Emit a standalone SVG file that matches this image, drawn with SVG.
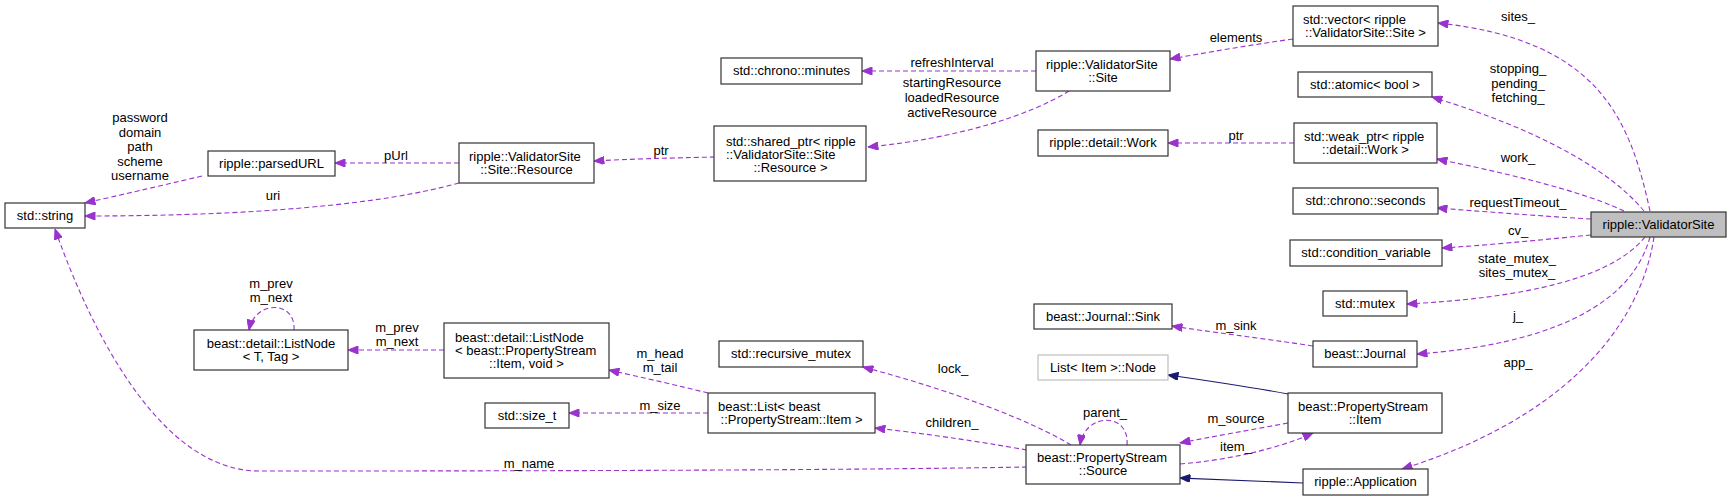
<svg xmlns="http://www.w3.org/2000/svg" width="1732" height="501" viewBox="0 0 1732 501">
<defs>
<style>
text{font-family:"Liberation Sans",Arial,sans-serif;font-size:13px;fill:#000}
.n rect{fill:#fff;stroke:#333;stroke-width:1.2}
.n text{text-anchor:middle}
.n text.l{text-anchor:start}
#n_vs rect{fill:#bfbfbf}
#n_listnode rect{stroke:#bfbfbf}
.e path{fill:none;stroke:#9a32cd;stroke-width:1.1;stroke-dasharray:5,3;marker-end:url(#ap)}
.e path.inh{stroke:#191970;stroke-dasharray:none;marker-end:url(#an)}
.lbl text{text-anchor:middle}
</style>
<marker id="ap" viewBox="0 0 10 8" refX="10" refY="4" markerWidth="11" markerHeight="8" markerUnits="userSpaceOnUse" orient="auto"><path d="M0,0 L10,4 L0,8 z" fill="#9a32cd" stroke="#9a32cd"/></marker>
<marker id="an" viewBox="0 0 10 8" refX="10" refY="4" markerWidth="11" markerHeight="8" markerUnits="userSpaceOnUse" orient="auto"><path d="M0,0 L10,4 L0,8 z" fill="#191970" stroke="#191970"/></marker>
</defs>
<rect width="1732" height="501" fill="#fff"/>

<g id="edges" class="e">
<path d="M1650,211 C1630,120 1600,40 1438,23"/>
<path d="M1644,211 C1610,170 1540,130 1432,97"/>
<path d="M1624,211 C1580,190 1500,172 1437,159"/>
<path d="M1591,219 C1540,216 1490,212 1437,208"/>
<path d="M1591,235 C1540,240 1490,245 1442,248"/>
<path d="M1645,237 C1610,280 1520,298 1407,304"/>
<path d="M1650,237 C1630,310 1540,345 1417,354"/>
<path d="M1654,237 C1640,330 1560,420 1402,469"/>
<path d="M1293,39 C1250,45 1210,52 1170,59"/>
<path d="M1294,143 L1168,143"/>
<path d="M1036,71 L862,71"/>
<path d="M1069,91 C1030,115 960,138 868,147"/>
<path d="M715,157 C670,158 630,159 594,161"/>
<path d="M459,163 L335,163"/>
<path d="M202,176 C160,186 120,195 85,203"/>
<path d="M459,183 C380,205 250,216 85,216"/>
<path d="M1027,467 C800,471 400,471 259,471 C150,471 80,300 55,229"/>
<path d="M444,350 L348,350"/>
<path d="M294,330 C296,300 255,300 249,330"/>
<path d="M708,393 C680,386 640,377 609,370"/>
<path d="M708,413 L569,413"/>
<path d="M1071,445 C1030,420 950,390 863,367"/>
<path d="M1027,450 C970,440 920,433 875,428"/>
<path d="M1127,445 C1130,412 1085,412 1080,445"/>
<path d="M1313,346 C1260,338 1210,332 1172,326"/>
<path class="inh" d="M1288,394 C1250,387 1210,381 1168,375"/>
<path d="M1288,423 C1250,430 1210,437 1180,443"/>
<path d="M1180,464 C1230,460 1280,448 1313,433"/>
<path class="inh" d="M1303,483 C1260,481 1220,480 1180,478"/>
</g>

<g id="labels" class="lbl">
<text x="1518" y="21">sites_</text>
<text x="1518" y="73">stopping_</text>
<text x="1518" y="88">pending_</text>
<text x="1518" y="102">fetching_</text>
<text x="1518" y="162">work_</text>
<text x="1518" y="207">requestTimeout_</text>
<text x="1518" y="235">cv_</text>
<text x="1517" y="263">state_mutex_</text>
<text x="1517" y="277">sites_mutex_</text>
<text x="1518" y="320">j_</text>
<text x="1518" y="367">app_</text>
<text x="1236" y="42">elements</text>
<text x="1236" y="140">ptr</text>
<text x="952" y="67">refreshInterval</text>
<text x="952" y="87">startingResource</text>
<text x="952" y="102">loadedResource</text>
<text x="952" y="117">activeResource</text>
<text x="661" y="155">ptr</text>
<text x="396" y="160">pUrl</text>
<text x="140" y="122">password</text>
<text x="140" y="137">domain</text>
<text x="140" y="151">path</text>
<text x="140" y="166">scheme</text>
<text x="140" y="180">username</text>
<text x="273" y="200">uri</text>
<text x="271" y="288">m_prev</text>
<text x="271" y="302">m_next</text>
<text x="397" y="332">m_prev</text>
<text x="397" y="346">m_next</text>
<text x="660" y="358">m_head</text>
<text x="660" y="372">m_tail</text>
<text x="660" y="410">m_size</text>
<text x="529" y="468">m_name</text>
<text x="953" y="373">lock_</text>
<text x="952" y="427">children_</text>
<text x="1105" y="417">parent_</text>
<text x="1236" y="330">m_sink</text>
<text x="1236" y="423">m_source</text>
<text x="1236" y="451">item_</text>
</g>

<g id="n_vs" class="n"><rect x="1591" y="212" width="135" height="25"/><text x="1658.5" y="229">ripple::ValidatorSite</text></g>
<g id="n_vector" class="n"><rect x="1293" y="6" width="145" height="40"/><text class="l" x="1303" y="24">std::vector&lt; ripple</text><text x="1365.5" y="37">::ValidatorSite::Site &gt;</text></g>
<g id="n_atomic" class="n"><rect x="1298" y="72" width="134" height="25"/><text x="1365" y="89">std::atomic&lt; bool &gt;</text></g>
<g id="n_weak" class="n"><rect x="1294" y="123" width="143" height="40"/><text class="l" x="1304" y="141">std::weak_ptr&lt; ripple</text><text x="1365.5" y="154">::detail::Work &gt;</text></g>
<g id="n_seconds" class="n"><rect x="1293" y="188" width="145" height="26"/><text x="1365.5" y="205">std::chrono::seconds</text></g>
<g id="n_condvar" class="n"><rect x="1290" y="240" width="152" height="26"/><text x="1366" y="257">std::condition_variable</text></g>
<g id="n_mutex" class="n"><rect x="1323" y="291" width="84" height="25"/><text x="1365" y="308">std::mutex</text></g>
<g id="n_journal" class="n"><rect x="1313" y="341" width="104" height="26"/><text x="1365" y="358">beast::Journal</text></g>
<g id="n_item" class="n"><rect x="1288" y="393" width="154" height="40"/><text class="l" x="1298" y="411">beast::PropertyStream</text><text x="1365" y="424">::Item</text></g>
<g id="n_app" class="n"><rect x="1303" y="469" width="125" height="26"/><text x="1365.5" y="486">ripple::Application</text></g>
<g id="n_sink" class="n"><rect x="1034" y="304" width="138" height="25"/><text x="1103" y="321">beast::Journal::Sink</text></g>
<g id="n_listnode" class="n"><rect x="1038" y="355" width="130" height="25"/><text x="1103" y="372">List&lt; Item &gt;::Node</text></g>
<g id="n_source" class="n"><rect x="1026" y="445" width="154" height="39"/><text class="l" x="1037" y="462">beast::PropertyStream</text><text x="1103" y="475">::Source</text></g>
<g id="n_rmutex" class="n"><rect x="719" y="341" width="144" height="26"/><text x="791" y="358">std::recursive_mutex</text></g>
<g id="n_blist" class="n"><rect x="708" y="393" width="167" height="40"/><text class="l" x="718" y="411">beast::List&lt; beast</text><text x="791.5" y="424">::PropertyStream::Item &gt;</text></g>
<g id="n_sizet" class="n"><rect x="485" y="403" width="84" height="25"/><text x="527" y="420">std::size_t</text></g>
<g id="n_listnode2" class="n"><rect x="444" y="323" width="165" height="55"/><text class="l" x="455" y="342">beast::detail::ListNode</text><text class="l" x="455" y="355">&lt; beast::PropertyStream</text><text x="526.5" y="368">::Item, void &gt;</text></g>
<g id="n_listnode1" class="n"><rect x="194" y="330" width="154" height="40"/><text x="271" y="348">beast::detail::ListNode</text><text x="271" y="361">&lt; T, Tag &gt;</text></g>
<g id="n_string" class="n"><rect x="5" y="203" width="80" height="25"/><text x="45" y="220">std::string</text></g>
<g id="n_parsedurl" class="n"><rect x="208" y="151" width="127" height="25"/><text x="271.5" y="168">ripple::parsedURL</text></g>
<g id="n_resource" class="n"><rect x="459" y="143" width="135" height="40"/><text class="l" x="469" y="161">ripple::ValidatorSite</text><text x="526.5" y="174">::Site::Resource</text></g>
<g id="n_shared" class="n"><rect x="714" y="126" width="152" height="55"/><text class="l" x="726" y="146">std::shared_ptr&lt; ripple</text><text class="l" x="726" y="159">::ValidatorSite::Site</text><text x="790.5" y="172">::Resource &gt;</text></g>
<g id="n_minutes" class="n"><rect x="721" y="58" width="141" height="26"/><text x="791.5" y="75">std::chrono::minutes</text></g>
<g id="n_site" class="n"><rect x="1036" y="51" width="134" height="40"/><text class="l" x="1046" y="69">ripple::ValidatorSite</text><text x="1103" y="82">::Site</text></g>
<g id="n_work" class="n"><rect x="1038" y="130" width="130" height="26"/><text x="1103" y="147">ripple::detail::Work</text></g>
</svg>
